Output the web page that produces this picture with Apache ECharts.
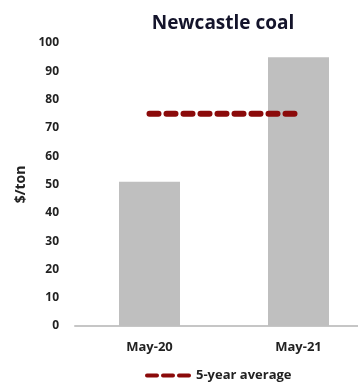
<!DOCTYPE html>
<html>
<head>
<meta charset="utf-8">
<script src="https://cdn.jsdelivr.net/npm/echarts@6/dist/echarts.min.js"></script>
<style>
  html, body { margin: 0; padding: 0; background: #fff; overflow: hidden; }
  #chart { width: 358px; height: 384px; }
</style>
</head>
<body>
<div id="chart"></div>
<script>
// Newcastle coal price, $/ton
const categories = ['May-20', 'May-21'];
const priceValues = [51, 95];
const fiveYearAverage = [75, 75];
const yTicks = { min: 0, max: 100, interval: 10 };

const chart = echarts.init(document.getElementById('chart'));
const FONT = '"Open Sans", "Liberation Sans", sans-serif';
const AVG_COLOR = '#8b0a0a';

// three rounded dashes for the legend marker
const dashIcon = 'path://M2,0h10a2,2 0 0 1 0,4h-10a2,2 0 0 1 0,-4z' +
  'M18,0h10a2,2 0 0 1 0,4h-10a2,2 0 0 1 0,-4z' +
  'M34,0h10a2,2 0 0 1 0,4h-10a2,2 0 0 1 0,-4z';

chart.setOption({
  animation: false,
  title: {
    text: 'Newcastle coal',
    left: 218,
    top: 9,
    textAlign: 'center',
    textStyle: { fontFamily: FONT, fontSize: 19, fontWeight: 'bold', color: '#14142b' }
  },
  legend: {
    data: [{ name: '5-year average', icon: dashIcon }],
    bottom: -3,
    left: 140,
    itemWidth: 46,
    itemHeight: 5,
    itemGap: 2,
    textStyle: { fontFamily: FONT, fontSize: 13, fontWeight: 'bold', color: '#222' }
  },
  // plot runs past the right edge so the axis line reaches the border
  grid: { left: 75, width: 298, top: 43, bottom: 58, outerBoundsMode: 'none', containLabel: false },
  xAxis: {
    type: 'category',
    data: categories,
    axisLine: { lineStyle: { color: '#c6c6c6', width: 2 } },
    axisTick: { show: false },
    axisLabel: { fontFamily: FONT, fontSize: 13, fontWeight: 'bold', color: '#222', margin: 15 }
  },
  yAxis: {
    type: 'value',
    min: yTicks.min,
    max: yTicks.max,
    interval: yTicks.interval,
    name: '$/ton',
    nameLocation: 'middle',
    nameGap: 41,
    nameRotate: 90,
    nameTextStyle: { fontFamily: FONT, fontSize: 14, fontWeight: 'bold', color: '#222' },
    splitLine: { show: false },
    axisLine: { show: false },
    axisTick: { show: false },
    axisLabel: { fontFamily: FONT, fontSize: 12, fontWeight: 'bold', color: '#222', margin: 16 }
  },
  series: [
    {
      name: 'Price',
      type: 'bar',
      data: priceValues,
      barWidth: 61,
      itemStyle: { color: '#bfbfbf' }
    },
    {
      name: '5-year average',
      type: 'line',
      data: fiveYearAverage,
      symbol: 'none',
      lineStyle: { color: AVG_COLOR, width: 6, type: [9, 8], cap: 'round' },
      itemStyle: { color: AVG_COLOR },
      z: 5
    }
  ]
});
</script>
</body>
</html>
